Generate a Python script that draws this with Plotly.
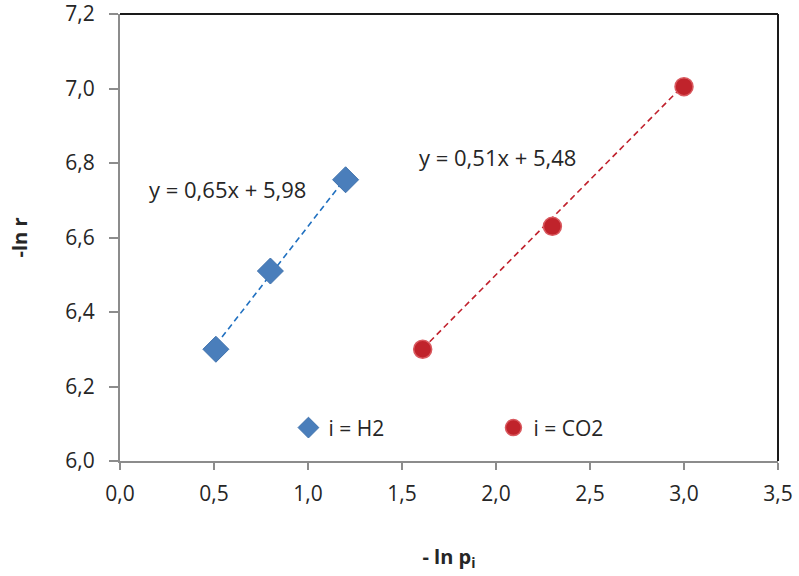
import plotly.graph_objects as go

# -ln p_i and -ln r for each gas
h2_x = [0.51, 0.80, 1.20]
h2_y = [6.30, 6.51, 6.755]
co2_x = [1.61, 2.30, 3.00]
co2_y = [6.30, 6.63, 7.005]

# linear trendlines (as printed on the chart)
h2_fit = (0.65, 5.98)
co2_fit = (0.51, 5.48)

FONT = "Open Sans, Noto Sans, sans-serif"
TXT = "#262626"


def fit_line(xs, coef):
    xr = [min(xs), max(xs)]
    return xr, [coef[0] * v + coef[1] for v in xr]


fig = go.Figure()

lx, ly = fit_line(h2_x, h2_fit)
fig.add_trace(go.Scatter(x=lx, y=ly, mode="lines", showlegend=False,
                         line=dict(color="#2070c0", width=1.6, dash="6px,4px")))
lx, ly = fit_line(co2_x, co2_fit)
fig.add_trace(go.Scatter(x=lx, y=ly, mode="lines", showlegend=False,
                         line=dict(color="#c0202c", width=1.6, dash="6px,4px")))

fig.add_trace(go.Scatter(
    x=h2_x, y=h2_y, mode="markers", name="i = H2",
    marker=dict(symbol="diamond", size=20, color="#4a7ebb",
                line=dict(color="#3f72ad", width=1)),
))
fig.add_trace(go.Scatter(
    x=co2_x, y=co2_y, mode="markers", name="i = CO2",
    marker=dict(symbol="circle", size=18, color="#c0232b",
                line=dict(color="#d9595f", width=1.5)),
))

fig.add_annotation(x=0.57, y=6.73, text="y = 0,65x + 5,98", showarrow=False,
                   font=dict(family=FONT, size=22, color=TXT))
fig.add_annotation(x=2.01, y=6.815, text="y = 0,51x + 5,48", showarrow=False,
                   font=dict(family=FONT, size=22, color=TXT))

# dark frame on top and right
fig.add_shape(type="line", xref="paper", yref="paper", x0=0, x1=1, y0=1, y1=1,
              line=dict(color="#1a1a1a", width=2))
fig.add_shape(type="line", xref="paper", yref="paper", x0=1, x1=1, y0=0, y1=1,
              line=dict(color="#1a1a1a", width=2))

fig.update_layout(
    width=799, height=576,
    margin=dict(l=120, r=21, t=14, b=115),
    plot_bgcolor="white", paper_bgcolor="white",
    separators=", ",
    font=dict(family=FONT, size=21, color=TXT),
    legend=dict(orientation="h", x=0.256, y=0.074, xanchor="left", yanchor="middle",
                entrywidth=160, bgcolor="rgba(0,0,0,0)",
                font=dict(family=FONT, size=21, color=TXT)),
    xaxis=dict(range=[0, 3.5], dtick=0.5, tickformat=".1f", showgrid=False,
               zeroline=False, showline=True, linecolor="#8c8c8c", linewidth=2,
               ticks="outside", ticklen=7, tickcolor="#8c8c8c", tickwidth=1.5,
               tickfont=dict(family=FONT, size=21, color=TXT),
               ticklabelstandoff=6, automargin=False, ticklabeloverflow="allow",
               title=dict(text="<b>- ln p<sub>i</sub></b>", standoff=44,
                          font=dict(family=FONT, size=20, color=TXT))),
    yaxis=dict(range=[6.0, 7.2], dtick=0.2, tickformat=".1f", showgrid=False,
               zeroline=False, showline=True, linecolor="#8c8c8c", linewidth=2,
               ticks="outside", ticklen=9, tickcolor="#8c8c8c", tickwidth=1.5,
               tickfont=dict(family=FONT, size=21, color=TXT),
               ticklabelstandoff=10, automargin=False, ticklabeloverflow="allow",
               title=dict(text="<b>-ln r</b>", standoff=32,
                          font=dict(family=FONT, size=20, color=TXT))),
)

fig.write_html("out.html", config={"displayModeBar": False},
               post_script="document.body.style.margin='0';")
